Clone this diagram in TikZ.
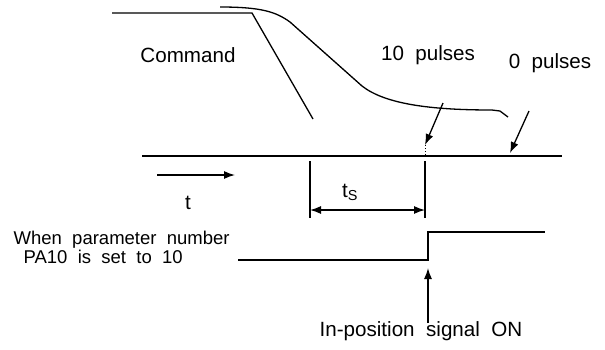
\documentclass[tikz,border=0pt]{standalone}
\usepackage{fontspec}
\setmainfont{Liberation Sans}
\usepackage{tikz}
\usetikzlibrary{positioning,arrows.meta}

\begin{document}
\begin{tikzpicture}[>={Latex[length=11pt,width=8pt]}, x=1pt, y=-1pt, line width=1.3pt, every node/.style={font=\fontsize{20.6}{22}\selectfont, inner sep=0pt}]
  \useasboundingbox (0,0) rectangle (605,349);
  % command and feedback
  \coordinate (C0) at (112,13);
  \coordinate (C1) at (252,13);
  \coordinate (C2) at (313,119);
  \coordinate (F0) at (220,7);
  \coordinate (F1) at (290,22);
  \coordinate (F2) at (362,86);
  \coordinate (F3) at (492,110);
  \coordinate (F4) at (508,117);
  \draw (C0) -- (C1) -- (C2);
  \draw (F0) .. controls (262,7) and (276,12) .. (F1) -- (F2)
        .. controls (385,104) and (430,110) .. (F3) -- (500,111) -- (F4);
  \node (cmd) at (188,55) {Command};
  \node (p10) at (428,55) {10\ \ pulses};
  \node (p0) at (550,63) {0\ \ pulses};

  % time axis
  \coordinate (A0) at (142,156);
  \coordinate (A1) at (562,156);
  \draw (A0) -- (A1);
  \coordinate (P10a) at (443,103);
  \coordinate (P10b) at (425,145);
  \coordinate (P10c) at (425,156);
  \coordinate (P0a) at (529,111);
  \coordinate (P0b) at (510,153);
  \draw [->] (P10a) -- (P10b);
  \draw [dotted, line width=1pt] (P10b) -- (P10c);
  \draw [->] (P0a) -- (P0b);

  \coordinate (Ta) at (157,175);
  \coordinate (Tb) at (235,175);
  \draw [->] (Ta) -- (Tb);
  \node (t) at (188,203) {t};

  \coordinate (S0a) at (310,161);
  \coordinate (S0b) at (310,218);
  \coordinate (S1a) at (425,161);
  \coordinate (S1b) at (425,218);
  \draw (S0a) -- (S0b);
  \draw (S1a) -- (S1b);
  \coordinate (S0c) at (310,210);
  \coordinate (S1c) at (425,210);
  \draw [<->] (S0c) -- (S1c);
  \node (ts) at (350,192) {t\textsubscript{S}};

  % in-position signal
  \coordinate (G0) at (238,260);
  \coordinate (G1) at (428,260);
  \coordinate (G2) at (428,232);
  \coordinate (G3) at (545,232);
  \draw (G0) -- (G1) -- (G2) -- (G3);
  \node [align=left, anchor=west, font=\fontsize{18.5}{19}\selectfont] (par) at (13,247.5) {When\ \ parameter\ \ number\\\hspace*{10pt}PA10\ \ is\ \ set\ \ to\ \ 10};
  \node (inpos) at (421,331) {In-position\ \ signal\ \ ON};
  \coordinate (U0) at (428,323);
  \coordinate (U1) at (428,268);
  \draw [->] (U0) -- (U1);
\end{tikzpicture}
\end{document}
